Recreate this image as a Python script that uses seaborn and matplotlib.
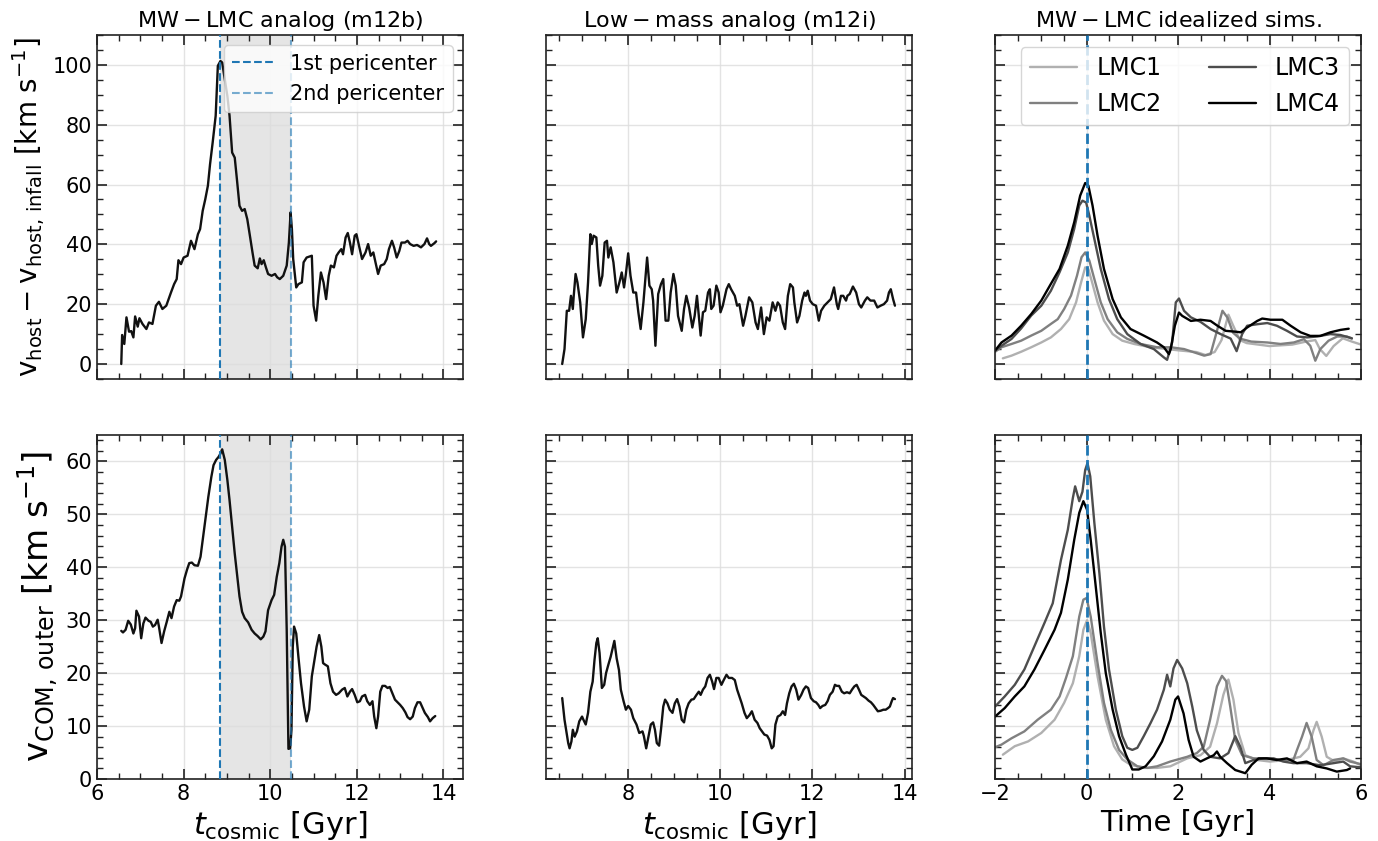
import numpy as np
import pandas as pd
import matplotlib
matplotlib.use("Agg")
import matplotlib.pyplot as plt
import seaborn as sns
from matplotlib.ticker import AutoMinorLocator, MultipleLocator

# ---------------- data ----------------
# MW-LMC analog (m12b): v_host - v_host,infall
m12b_top_t = [6.56,6.58,6.63,6.68,6.74,6.79,6.84,6.88,6.94,6.98,7.05,7.14,7.2,7.28,7.36,7.43,7.51,7.6,7.71,7.78,7.84,7.88,7.94,8.0,8.09,8.17,8.25,8.33,8.38,8.44,8.5,8.56,8.61,8.67,8.74,8.79,8.85,8.89,8.95,9.01,9.06,9.12,9.18,9.23,9.29,9.35,9.41,9.47,9.53,9.59,9.64,9.71,9.76,9.8,9.85,9.9,9.95,10.03,10.11,10.16,10.22,10.3,10.38,10.43,10.47,10.5,10.53,10.6,10.65,10.73,10.77,10.84,10.96,11.0,11.06,11.11,11.17,11.23,11.29,11.35,11.4,11.47,11.53,11.58,11.64,11.68,11.74,11.79,11.84,11.89,11.95,11.99,12.05,12.12,12.2,12.26,12.32,12.38,12.43,12.49,12.55,12.63,12.69,12.74,12.81,12.86,12.92,12.98,13.03,13.11,13.17,13.23,13.31,13.39,13.48,13.56,13.62,13.67,13.71,13.79,13.83]
m12b_top_v = [0,9.7,6.7,15.6,10.8,11,8.9,15.9,12.5,15.3,13.4,11.7,13.9,13.4,19.5,20.8,18.4,19.5,24,26.7,28.4,34.7,33.4,35.6,36.2,41.2,38.4,43.4,45.1,51.2,55.1,59.6,66.8,74,83,99.7,101.3,100.8,95.2,89.6,83,70.7,69,61.8,52.9,51.2,51.8,48.4,42.9,37.3,32.9,32,35.3,33.4,34.7,32.3,30.1,29.5,30.1,29,28.4,29.5,32.9,40.6,50.7,45.1,35.1,25.6,26.7,27.3,34,35.6,36.2,19.5,14.5,22.8,30.6,27.3,21.7,29.5,32.9,32.3,36.2,37.3,38.4,36.7,42.3,43.8,40.6,36.7,42.9,43.4,39.5,35.1,37.3,40.1,36.2,37.3,34,30.1,32.9,33.4,35.1,38.4,41.2,39,35.6,37.8,40.6,40.6,41.2,40.1,39.5,39.8,39,40.1,42,40.1,39.5,40.4,41]

# Low-mass analog (m12i): v_host - v_host,infall
m12i_top_t = [6.58,6.63,6.68,6.73,6.77,6.81,6.83,6.87,6.91,6.97,7.03,7.09,7.14,7.19,7.22,7.26,7.32,7.36,7.4,7.45,7.5,7.55,7.58,7.63,7.69,7.76,7.82,7.87,7.92,7.96,8.01,8.06,8.12,8.18,8.23,8.28,8.34,8.42,8.47,8.52,8.55,8.6,8.66,8.72,8.77,8.82,8.88,8.93,8.99,9.04,9.09,9.17,9.22,9.27,9.33,9.4,9.45,9.5,9.58,9.63,9.68,9.74,9.78,9.81,9.86,9.92,9.97,10.01,10.06,10.14,10.19,10.24,10.32,10.37,10.42,10.5,10.55,10.63,10.7,10.77,10.82,10.89,10.95,11.01,11.07,11.14,11.2,11.25,11.3,11.36,11.41,11.47,11.52,11.58,11.61,11.67,11.72,11.78,11.83,11.86,11.9,11.95,12.01,12.08,12.14,12.19,12.26,12.33,12.4,12.47,12.53,12.56,12.62,12.67,12.73,12.76,12.81,12.88,12.95,13.01,13.06,13.14,13.19,13.26,13.34,13.41,13.48,13.55,13.62,13.66,13.7,13.75,13.79]
m12i_top_v = [0,5,17.8,17.8,22.8,18.4,22.8,30.1,27.3,20.6,8.9,15,27.3,43.4,40.1,42.9,42.3,32.9,26.2,29.5,40.6,41.2,35.6,39,34,23.9,27.3,30.6,25.6,30.1,37,29.5,23.9,23.9,17.3,11.7,20.6,35.6,26.2,25,21.2,6.1,23.4,26.7,28.4,14.5,14.5,23.9,30.1,26.2,16.1,11.1,18.4,22.8,18.9,12.2,16.1,22.8,9.5,17.3,17.8,23.9,25,18.4,19.5,26.2,23.9,17.3,19.5,25,26.7,25,22.8,19.5,20,12.8,16.1,22.3,20.6,13.9,11.7,18.9,10,15.6,14.5,20.6,17.8,20.6,19.5,13.9,11.7,22.8,26.7,25.6,20.6,13.9,16.1,21.2,23.9,22.8,24.5,21.2,20,19.5,14.5,17.8,19.5,20.6,21.7,25.6,20,18.4,22.8,22.8,21.2,22.8,23.4,25.9,23.9,20,18.9,21.2,22.3,21.2,21.2,18.9,19.5,20,21.2,23.9,25,21.7,19.5]

# MW-LMC analog (m12b): v_COM,outer
m12b_bot_t = [6.56,6.6,6.66,6.72,6.78,6.84,6.88,6.91,6.97,7.02,7.07,7.12,7.19,7.24,7.29,7.34,7.4,7.43,7.49,7.55,7.61,7.67,7.72,7.78,7.84,7.9,7.94,8.02,8.08,8.13,8.19,8.25,8.33,8.39,8.44,8.5,8.57,8.64,8.69,8.75,8.81,8.85,8.89,8.95,9.01,9.06,9.12,9.18,9.24,9.29,9.35,9.41,9.49,9.57,9.64,9.71,9.78,9.84,9.89,9.95,10.03,10.09,10.15,10.21,10.26,10.3,10.34,10.38,10.42,10.46,10.49,10.52,10.55,10.6,10.65,10.71,10.78,10.84,10.9,10.96,11.02,11.07,11.13,11.18,11.22,11.27,11.33,11.39,11.45,11.52,11.58,11.66,11.72,11.78,11.84,11.89,11.95,12.01,12.07,12.12,12.19,12.24,12.3,12.36,12.4,12.45,12.49,12.54,12.59,12.65,12.71,12.76,12.82,12.88,12.94,13.0,13.06,13.12,13.17,13.23,13.29,13.34,13.4,13.46,13.52,13.57,13.64,13.69,13.75,13.81]
m12b_bot_v = [28,27.7,28.2,29.9,29.2,27.5,28.5,31.8,30.7,26.6,29.4,30.5,29.9,29.7,28.8,29.1,30.1,28.8,25.7,27.9,29.7,31.6,30.4,32.6,33.8,33.7,34.5,37.9,39.6,40.8,40.9,40.4,40.3,42,45.2,48.9,53.3,57.1,59.3,60.3,60.9,61.5,62.3,60.3,56.5,52.7,47.7,42.6,38.2,34.5,31.6,30.4,29.6,28.2,27.5,27,26.4,26.9,27.9,31.9,33.8,34.8,38.2,40.8,43.9,45.2,43.9,28.2,5.7,5.8,9.3,25,28.8,27.5,23.1,18.1,13.7,10.9,13.1,19.4,22.5,25,27.2,25,21.9,21.6,21.3,18.1,16.5,15.9,16.2,16.9,17.2,15.6,16.5,17,15.9,14.5,14.7,15.6,15.9,14.7,14,14.7,11.8,9.6,11.8,16.5,17.6,17.6,17.2,17.4,16.2,15,14.5,14,13.4,12.6,11.7,11.3,11.8,13.4,14.5,14.5,13.4,12.5,11.7,10.9,11.5,11.9]

# Low-mass analog (m12i): v_COM,outer
m12i_bot_t = [6.58,6.63,6.67,6.71,6.74,6.78,6.81,6.85,6.9,6.95,7.01,7.04,7.09,7.14,7.19,7.24,7.28,7.32,7.35,7.39,7.44,7.49,7.53,7.58,7.63,7.68,7.71,7.76,7.81,7.85,7.91,7.96,8.01,8.07,8.12,8.19,8.25,8.32,8.35,8.4,8.45,8.5,8.55,8.59,8.63,8.68,8.72,8.77,8.81,8.86,8.91,8.97,9.02,9.07,9.12,9.17,9.22,9.27,9.32,9.38,9.43,9.49,9.54,9.58,9.63,9.68,9.73,9.78,9.83,9.87,9.92,9.97,10.03,10.08,10.14,10.19,10.26,10.32,10.37,10.42,10.47,10.53,10.58,10.64,10.69,10.75,10.81,10.86,10.91,10.96,11.02,11.07,11.12,11.16,11.2,11.25,11.31,11.36,11.41,11.45,11.5,11.55,11.6,11.65,11.7,11.76,11.81,11.86,11.91,11.97,12.03,12.08,12.13,12.17,12.22,12.28,12.33,12.38,12.44,12.49,12.53,12.58,12.64,12.69,12.75,12.81,12.86,12.91,12.96,13.01,13.06,13.11,13.16,13.22,13.27,13.32,13.37,13.42,13.48,13.54,13.59,13.64,13.68,13.72,13.75,13.79]
m12i_bot_v = [15.3,11.2,9,6.8,5.8,7.1,9.3,8,9,10.9,11.8,11.2,10.3,12.5,16.5,18.4,22.5,25.7,26.6,23.8,17.2,17.8,20,21.6,23.1,25,26.1,22.8,20.6,16.9,14.7,13.1,13.8,13.1,11.5,10.3,8.7,9,8.1,5.8,8.1,10.3,10.7,9.3,6.8,6.3,9.3,13.7,15,14.3,13.1,12.5,14.3,15.1,13.7,11.2,10.7,13.1,14.3,15,15.1,15.9,16.5,15.9,16.9,17.5,19.1,19.7,18.4,17,19.1,19.1,17.8,18.7,19.7,19.1,19.1,18.7,16.9,15.6,14.3,12.5,11.5,12.1,12.8,11.2,10.6,9.6,9,8.4,8.2,7.4,5.8,6.2,10.3,11.8,12.1,12.8,12.1,14.3,16.2,17.5,18,16.9,15,15.9,16.9,17.5,17.2,15.3,14.7,14.5,14,13.4,13.8,14,14.7,15.9,16.5,17.8,17.6,17.6,16.5,16.2,16.4,16.2,16.9,17.5,17.8,16.9,15.9,15.6,15.3,14.8,14.5,14,13.4,12.8,12.9,13.1,13.1,13.4,13.7,14.7,15.3,15.1]

# Idealized sims: v_host - v_host,infall (top)
lmc1_top_t = [-1.83,-1.64,-1.43,-1.21,-0.99,-0.78,-0.56,-0.38,-0.23,-0.12,-0.03,0.04,0.13,0.24,0.38,0.57,0.78,1.04,1.4,1.76,2.05,2.4,2.6,2.8,2.95,3.1,3.2,3.35,3.5,4.0,4.5,4.8,5.0,5.1,5.24,5.4,5.6,5.8,6.0]
lmc1_top_v = [1.9,2.8,4.1,5.6,7.2,8.9,11.7,15,20.6,27.3,32.3,31.7,26.8,20.6,14.5,10,7.8,6.7,5.6,5,4.5,4,3,4,8,16.5,13,8,7,6,6.5,7.5,8,5,2.7,6,8.6,7.5,6.5]
lmc2_top_t = [-2.0,-1.86,-1.64,-1.43,-1.21,-0.99,-0.78,-0.63,-0.49,-0.34,-0.21,-0.11,-0.03,0.06,0.17,0.31,0.46,0.67,0.89,1.18,1.54,1.84,2.13,2.35,2.57,2.71,2.82,2.97,3.08,3.2,3.35,3.6,3.95,4.24,4.53,4.75,4.89,5.0,5.11,5.29,5.48,5.69,5.8]
lmc2_top_v = [4.1,5.6,6.7,7.8,9.5,11.1,13.4,15,18.4,22.9,29.5,35.7,37.3,34.6,28.4,20.6,15,10.6,8.4,6.7,5.6,5.6,5,3.9,2.8,3.3,9.4,17.8,15.5,10.5,8.5,7.5,7.2,6.7,7.2,8.3,6.1,1.1,5,7.8,9.2,9.2,8.5]
lmc3_top_t = [-2.0,-1.86,-1.64,-1.43,-1.21,-0.99,-0.78,-0.59,-0.41,-0.27,-0.16,-0.09,-0.01,0.06,0.17,0.31,0.49,0.67,0.89,1.18,1.47,1.69,1.76,1.87,1.95,2.02,2.13,2.28,2.49,2.71,2.93,3.15,3.28,3.4,3.51,3.73,3.95,4.16,4.38,4.6,4.82,5.04,5.33,5.55,5.8]
lmc3_top_v = [4.5,6.1,8.4,11.9,16.2,19.5,24.5,30.7,37.3,45.2,53,54.6,54,49.6,41.8,31.8,21.7,15,10,6.7,5,2.2,1.4,7.2,20.6,21.9,17.8,15.6,14.1,11.7,10,8.5,4.3,10,12.8,13.3,13.7,12.8,11.1,9.2,8.9,9.2,10,9.7,8.6]
lmc4_top_t = [-2.0,-1.86,-1.64,-1.43,-1.21,-0.99,-0.78,-0.59,-0.41,-0.27,-0.14,-0.03,0.04,0.13,0.24,0.38,0.57,0.75,0.96,1.25,1.54,1.69,1.8,1.84,1.93,2.02,2.09,2.28,2.49,2.71,2.86,3.04,3.26,3.37,3.51,3.73,3.84,4.02,4.28,4.46,4.68,4.89,5.11,5.33,5.55,5.73]
lmc4_top_v = [4.5,7.2,9.5,12.8,16.7,21.2,26.8,31.8,39.6,47.4,56.3,60.5,59.6,53,42.9,31.8,21.7,15.6,11.7,9.5,7.2,5.6,3.3,5,12.8,17.2,16.1,14.4,14.8,14.4,12.8,11.1,10.8,10.6,12.2,14.4,15.2,14.8,14.8,12.8,10.6,9.4,9.4,10.6,11.4,11.8]

# Idealized sims: v_COM,outer (bottom)
lmc1_bot_t = [-1.83,-1.57,-1.28,-0.99,-0.7,-0.49,-0.3,-0.16,-0.07,0.01,0.09,0.24,0.42,0.6,0.78,0.96,1.25,1.54,1.83,2.2,2.49,2.7,2.85,2.99,3.1,3.21,3.32,3.47,3.72,4.01,4.38,4.67,4.85,4.96,5.03,5.14,5.25,5.43,5.61,5.83,6.05]
lmc1_bot_v = [4.6,6.2,7.1,8.7,11.2,14.4,18.1,23.2,28.2,30,27.6,19.4,11.2,6.2,3.7,2.7,2.1,2.1,2.4,3.9,4.5,6.1,10.5,15.9,18.8,15,8.7,4.5,3.6,3.3,3.6,4.2,5.8,9.2,10.8,8,4.2,3.3,3.9,3.3,2.4]
lmc2_bot_t = [-2.0,-1.86,-1.64,-1.36,-1.07,-0.78,-0.59,-0.45,-0.3,-0.16,-0.07,0.0,0.09,0.24,0.38,0.53,0.71,0.89,1.11,1.33,1.54,1.83,2.2,2.41,2.56,2.7,2.85,2.96,3.05,3.14,3.25,3.4,3.65,3.94,4.23,4.52,4.6,4.71,4.81,4.92,5.03,5.18,5.4,5.61,5.76,6.0]
lmc2_bot_v = [6.0,6.5,7.7,9,11.2,13.1,15.6,19.1,23.2,30.7,33.9,34.2,30.7,21.9,14.4,9.3,5.5,3.7,2.4,2.1,2.4,3.3,4.2,4.9,6.1,11.2,17.5,19.5,18.5,13.7,7.4,4.5,3.9,3.9,3.6,3.6,5.5,8,10.6,8,3.6,2.6,3.6,3.9,3.3,2.8]
lmc3_bot_t = [-2.0,-1.79,-1.57,-1.36,-1.14,-0.92,-0.74,-0.56,-0.41,-0.3,-0.25,-0.16,-0.09,-0.03,0.02,0.08,0.17,0.28,0.38,0.49,0.64,0.78,0.89,1.0,1.11,1.25,1.4,1.54,1.69,1.76,1.83,1.9,1.98,2.09,2.2,2.31,2.41,2.56,2.7,2.92,3.1,3.25,3.36,3.47,3.65,3.87,4.09,4.3,4.52,4.81,5.1,5.4,5.61,5.76,6.0]
lmc3_bot_v = [13.7,15.6,17.8,20.7,25.1,29.5,33.2,41.4,47.1,53.1,55.3,52.5,54.3,58.4,59.7,57.2,48.4,38.9,28.8,20.7,13.1,8.1,5.9,5.5,5.9,8.1,10.6,13.1,16.9,19.7,17.5,20.9,22.5,20.9,18.1,13.7,9.2,5.5,4.2,3.9,4.9,8.1,6.1,3,3.6,3.9,3.9,3.3,3,3,2.6,3,3.3,2.4,2.2]
lmc4_bot_t = [-2.0,-1.79,-1.57,-1.36,-1.14,-0.92,-0.7,-0.56,-0.41,-0.27,-0.16,-0.07,0.01,0.09,0.2,0.31,0.42,0.57,0.71,0.86,1.0,1.14,1.29,1.47,1.65,1.83,1.94,2.0,2.12,2.23,2.34,2.49,2.63,2.78,2.85,2.92,3.07,3.25,3.47,3.61,3.76,3.94,4.16,4.38,4.6,4.81,5.03,5.25,5.47,5.69,5.76]
lmc4_bot_v = [11.8,13.4,15.6,17.5,20.7,24.4,28.2,31.4,37.7,45.2,50.3,52.5,50.9,45.2,36.4,27.6,20,13.1,8.1,4.6,1.8,1.8,2.4,4.3,7.1,11.2,15,15.6,12.4,7.4,4.2,3.3,3.9,4.5,5.2,4.2,3,1.7,1.1,2.7,3.9,3.9,3.6,3.9,3,3.3,2.4,2,1.4,1.7,2]

lmc_labels = ["LMC1", "LMC2", "LMC3", "LMC4"]
lmc_colors = ["#b0b0b0", "#808080", "#4d4d4d", "#000000"]

peri1 = 8.84
peri2 = 10.48

titles = [r"$\mathrm{MW-LMC}$ analog (m12b)",
          r"$\mathrm{Low-mass}$ analog (m12i)",
          r"$\mathrm{MW-LMC}$ idealized sims."]

# ---------------- style ----------------
sns.set_style("ticks")
plt.rcParams.update({
    "font.family": ["DejaVu Sans"],
    "mathtext.fontset": "dejavusans",
    "text.color": "black", "axes.labelcolor": "black",
    "xtick.labelcolor": "black", "ytick.labelcolor": "black",
    "xtick.direction": "in", "ytick.direction": "in",
    "xtick.top": True, "ytick.right": True,
    "xtick.major.size": 7, "ytick.major.size": 7,
    "xtick.minor.size": 4, "ytick.minor.size": 4,
    "xtick.major.width": 1.2, "ytick.major.width": 1.2,
    "xtick.minor.width": 1.0, "ytick.minor.width": 1.0,
    "xtick.labelsize": 15, "ytick.labelsize": 15,
    "axes.edgecolor": "#222222", "axes.linewidth": 1.2,
    "xtick.color": "#222222", "ytick.color": "#222222",
})

fig, axes = plt.subplots(2, 3, figsize=(13.78, 8.41), dpi=100)
fig.subplots_adjust(left=0.0704, right=0.9877, top=0.9584, bottom=0.0737,
                    wspace=0.227, hspace=0.163)

def line(ax, x, y, color="k", lw=1.7, label=None):
    df = pd.DataFrame({"x": x, "y": y})
    sns.lineplot(data=df, x="x", y="y", ax=ax, color=color, lw=lw,
                 sort=False, estimator=None, label=label, legend=False)

# left column
for row, (t, v) in enumerate([(m12b_top_t, m12b_top_v), (m12b_bot_t, m12b_bot_v)]):
    ax = axes[row, 0]
    ax.axvspan(peri1, peri2, color="gray", alpha=0.2, lw=0, zorder=0)
    line(ax, t, v, color="#111111")
    ax.axvline(peri1, color="#1f77b4", ls="--", lw=1.5, label="1st pericenter", zorder=3)
    ax.axvline(peri2, color="#1f77b4", ls="--", lw=1.5, alpha=0.6, label="2nd pericenter", zorder=3)
    ax.set_xlim(6, 14.45)

# middle column
for row, (t, v) in enumerate([(m12i_top_t, m12i_top_v), (m12i_bot_t, m12i_bot_v)]):
    ax = axes[row, 1]
    line(ax, t, v, color="#111111")
    ax.set_xlim(6.23, 14.16)

# right column
tops = [(lmc1_top_t, lmc1_top_v), (lmc2_top_t, lmc2_top_v), (lmc3_top_t, lmc3_top_v), (lmc4_top_t, lmc4_top_v)]
bots = [(lmc1_bot_t, lmc1_bot_v), (lmc2_bot_t, lmc2_bot_v), (lmc3_bot_t, lmc3_bot_v), (lmc4_bot_t, lmc4_bot_v)]
for row, sets in enumerate([tops, bots]):
    ax = axes[row, 2]
    for (t, v), lab, c in zip(sets, lmc_labels, lmc_colors):
        line(ax, t, v, color=c, lw=1.7, label=lab)
    ax.axvline(0, color="#1f77b4", ls="--", lw=2, zorder=3)
    ax.set_xlim(-2, 6)

for ax in axes[0]:
    ax.set_ylim(-5, 110)
    ax.yaxis.set_major_locator(MultipleLocator(20))
for ax in axes[1]:
    ax.set_ylim(0, 65)
    ax.yaxis.set_major_locator(MultipleLocator(10))

for r in range(2):
    for c in range(3):
        ax = axes[r, c]
        ax.xaxis.set_major_locator(MultipleLocator(2))
        ax.xaxis.set_minor_locator(AutoMinorLocator())
        ax.yaxis.set_minor_locator(AutoMinorLocator())
        ax.grid(True, which="major", color="#dddddd", lw=1.0, alpha=0.8)
        ax.set_axisbelow(True)
        ax.set_xlabel("")
        ax.set_ylabel("")
        ax.tick_params(which="both", top=True, right=True)
        if r == 0:
            ax.tick_params(labelbottom=False)
        if c > 0:
            ax.tick_params(labelleft=False)
        for s in ax.spines.values():
            s.set_visible(True)

for c in range(3):
    axes[0, c].set_title(titles[c], fontsize=16, color="black")

axes[0, 0].set_ylabel(r"$\mathrm{v_{host}-v_{host,\,infall}}$ [km s$^{-1}$]", fontsize=20)
axes[1, 0].set_ylabel(r"$\mathrm{v_{COM,\,outer}}$ [km s$^{-1}$]", fontsize=24.5)
axes[1, 0].set_xlabel(r"$t_{\rm cosmic}$ [Gyr]", fontsize=22)
axes[1, 1].set_xlabel(r"$t_{\rm cosmic}$ [Gyr]", fontsize=22)
axes[1, 2].set_xlabel("Time [Gyr]", fontsize=21)

leg1 = axes[0, 0].legend(loc="upper right", fontsize=15, frameon=True)
leg1.set_zorder(10)
leg2 = axes[0, 2].legend(loc="upper right", fontsize=17, ncol=2, frameon=True)
leg2.set_zorder(10)

fig.savefig("out.png", dpi=100)
